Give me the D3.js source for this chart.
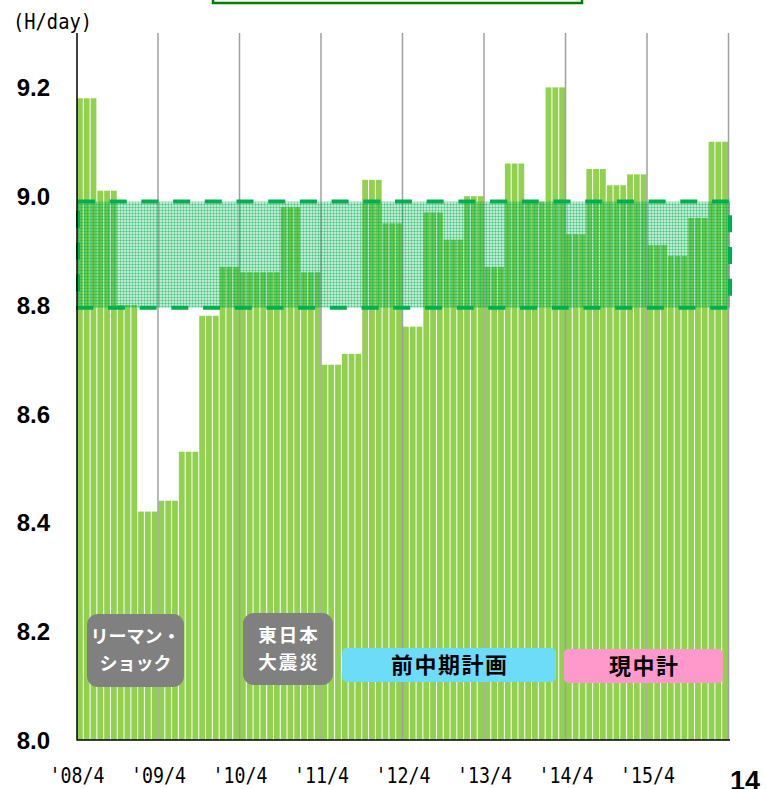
<!DOCTYPE html>
<html>
<head>
<meta charset="utf-8">
<script src="https://cdn.jsdelivr.net/npm/d3@7"></script>
<style>
  html, body { margin: 0; padding: 0; background: #fff; }
  svg { display: block; }
</style>
</head>
<body>
<svg id="chart"></svg>
<script>
    /* 定数群 */
    const SVG_WIDTH = 767;
    const SVG_HEIGHT = 789;
    const PLOT_LEFT = 77;
    const PLOT_RIGHT = 730;
    const PLOT_TOP = 33;
    const PLOT_BOTTOM = 740;

    // 月別の値（年度ごと 4月〜3月）
    const fy08 = [9.18, 9.18, 9.18, 9.01, 9.01, 9.01, 8.80, 8.80, 8.80, 8.42, 8.42, 8.42];
    const fy09 = [8.44, 8.44, 8.44, 8.53, 8.53, 8.53, 8.78, 8.78, 8.78, 8.87, 8.87, 8.87];
    const fy10 = [8.86, 8.86, 8.86, 8.86, 8.86, 8.86, 8.98, 8.98, 8.98, 8.86, 8.86, 8.86];
    const fy11 = [8.69, 8.69, 8.69, 8.71, 8.71, 8.71, 9.03, 9.03, 9.03, 8.95, 8.95, 8.95];
    const fy12 = [8.76, 8.76, 8.76, 8.97, 8.97, 8.97, 8.92, 8.92, 8.92, 9.00, 9.00, 9.00];
    const fy13 = [8.87, 8.87, 8.87, 9.06, 9.06, 9.06, 8.99, 8.99, 8.99, 9.20, 9.20, 9.20];
    const fy14 = [8.93, 8.93, 8.93, 9.05, 9.05, 9.05, 9.02, 9.02, 9.02, 9.04, 9.04, 9.04];
    const fy15 = [8.91, 8.91, 8.91, 8.89, 8.89, 8.89, 8.96, 8.96, 8.96, 9.10, 9.10, 9.10];
    const monthlyValues = [].concat(fy08, fy09, fy10, fy11, fy12, fy13, fy14, fy15);

    // 目標レンジ
    const targetRange = [8.795, 8.99];

    // 軸ラベル
    const yearLabels = ["'08/4", "'09/4", "'10/4", "'11/4", "'12/4", "'13/4", "'14/4", "'15/4"];
    const yTicks = [8.0, 8.2, 8.4, 8.6, 8.8, 9.0, 9.2];

    // 月のカテゴリ（0..95）
    const months = d3.range(monthlyValues.length);

    let svg = d3.select('#chart')
        .attr('width', SVG_WIDTH).attr('height', SVG_HEIGHT)
        .attr('font-family', '"Noto Sans CJK JP", sans-serif');

    let xScale = d3.scaleBand()
        .domain(months)
        .range([PLOT_LEFT, PLOT_RIGHT - 1])
        .paddingInner(0);

    let yScale = d3.scaleLinear()
        .domain([8.0, 9.3])
        .range([PLOT_BOTTOM, PLOT_TOP]);

    // 格子のパターン
    let defs = svg.append('defs');
    let pat = defs.append('pattern')
        .attr('id', 'grid').attr('patternUnits', 'userSpaceOnUse')
        .attr('width', 3).attr('height', 3);
    pat.append('rect').attr('width', 3).attr('height', 3).attr('fill', 'rgba(0,176,80,0.25)');
    pat.append('rect').attr('width', 3).attr('height', 1).attr('fill', 'rgba(0,176,80,0.35)');
    pat.append('rect').attr('width', 1).attr('height', 3).attr('fill', 'rgba(0,176,80,0.35)');

    // 上部の枠（見切れている）
    svg.append('rect')
        .attr('x', 213).attr('y', -12).attr('width', 369).attr('height', 15)
        .attr('fill', '#fff').attr('stroke', '#008000').attr('stroke-width', 2.5);

    // 棒グラフ
    svg.append('g').selectAll('rect').data(months).enter().append('rect')
        .attr('fill', '#92d050')
        .attr('x', (d) => xScale(d))
        .attr('y', (d) => yScale(monthlyValues[d]))
        .attr('width', xScale.bandwidth() - 1)
        .attr('height', (d) => PLOT_BOTTOM - yScale(monthlyValues[d]));

    // 年度の区切り線
    svg.append('g').selectAll('line').data(yearLabels).enter().append('line')
        .attr('x1', (d, i) => xScale((i + 1) * 12 - 1) + xScale.bandwidth() - 0.5)
        .attr('x2', (d, i) => xScale((i + 1) * 12 - 1) + xScale.bandwidth() - 0.5)
        .attr('y1', PLOT_TOP).attr('y2', PLOT_BOTTOM)
        .attr('stroke', '#a0a0a0').attr('stroke-width', 1.5);

    // 目標レンジ
    svg.append('rect')
        .attr('x', PLOT_LEFT + 1)
        .attr('y', yScale(targetRange[1]))
        .attr('width', PLOT_RIGHT - PLOT_LEFT - 1)
        .attr('height', yScale(targetRange[0]) - yScale(targetRange[1]))
        .attr('fill', 'url(#grid)')
        .attr('stroke', '#00b050').attr('stroke-width', 4)
        .attr('stroke-dasharray', '17,14.7');

    // 軸線
    svg.append('line')
        .attr('x1', PLOT_LEFT).attr('x2', PLOT_LEFT)
        .attr('y1', PLOT_TOP).attr('y2', PLOT_BOTTOM + 0.5)
        .attr('stroke', '#000').attr('stroke-width', 1.5);
    svg.append('line')
        .attr('x1', PLOT_LEFT).attr('x2', PLOT_RIGHT)
        .attr('y1', PLOT_BOTTOM).attr('y2', PLOT_BOTTOM)
        .attr('stroke', '#000').attr('stroke-width', 1.5);

    // y軸ラベル
    svg.append('g').selectAll('text').data(yTicks).enter().append('text')
        .attr('font-family', '"Liberation Sans", Arial, sans-serif')
        .attr('font-weight', 'bold').attr('font-size', '24px')
        .attr('text-anchor', 'end')
        .attr('x', 50)
        .attr('y', (d) => yScale(d) + 9)
        .text((d) => d.toFixed(1));

    // x軸ラベル
    svg.append('g').selectAll('text').data(yearLabels).enter().append('text')
        .attr('font-family', '"DejaVu Sans Mono", monospace')
        .attr('font-size', '22px')
        .attr('text-anchor', 'middle')
        .attr('x', (d, i) => xScale(i * 12))
        .attr('y', 783)
        .attr('textLength', 55).attr('lengthAdjust', 'spacingAndGlyphs')
        .text((d) => d);

    // 単位
    svg.append('text')
        .attr('font-family', '"DejaVu Sans Mono", monospace')
        .attr('font-size', '22px')
        .attr('x', 13).attr('y', 29)
        .attr('textLength', 79).attr('lengthAdjust', 'spacingAndGlyphs')
        .text('(H/day)');

    // ページ番号（見切れ）
    svg.append('text')
        .attr('font-family', '"Liberation Sans", Arial, sans-serif')
        .attr('font-weight', 'bold').attr('font-size', '27px')
        .attr('x', 730).attr('y', 790)
        .text('14');

    // 注記ボックス
    const notes = [
        { x: 87, y: 614, w: 97, h: 73, rx: 11, fill: '#808080', color: '#fff', size: 18, ls: 0, lines: ['リーマン・', 'ショック'] },
        { x: 243, y: 613, w: 90, h: 72, rx: 11, fill: '#808080', color: '#fff', size: 18.5, ls: 2, lines: ['東日本', '大震災'] },
        { x: 342, y: 648, w: 214, h: 34, rx: 5, fill: '#6ddcf9', color: '#000', size: 22, ls: 1.5, lines: ['前中期計画'] },
        { x: 564, y: 649, w: 159, h: 34, rx: 5, fill: '#ff99cc', color: '#000', size: 22, ls: 1.5, lines: ['現中計'] }
    ];

    let noteG = svg.append('g').selectAll('g').data(notes).enter().append('g');
    noteG.append('rect')
        .attr('x', (d) => d.x).attr('y', (d) => d.y)
        .attr('width', (d) => d.w).attr('height', (d) => d.h)
        .attr('rx', (d) => d.rx).attr('ry', (d) => d.rx)
        .attr('fill', (d) => d.fill);
    noteG.each(function (d) {
        let g = d3.select(this);
        let lineH = 27;
        let y0 = d.y + d.h / 2 - (d.lines.length - 1) * lineH / 2;
        d.lines.forEach((t, i) => {
            g.append('text')
                .attr('x', d.x + d.w / 2 + d.ls / 2)
                .attr('y', y0 + i * lineH)
                .attr('dy', '0.36em')
                .attr('text-anchor', 'middle')
                .attr('font-weight', 'bold')
                .attr('font-size', d.size + 'px')
                .attr('letter-spacing', d.ls + 'px')
                .attr('fill', d.color)
                .text(t);
        });
    });
</script>
</body>
</html>
